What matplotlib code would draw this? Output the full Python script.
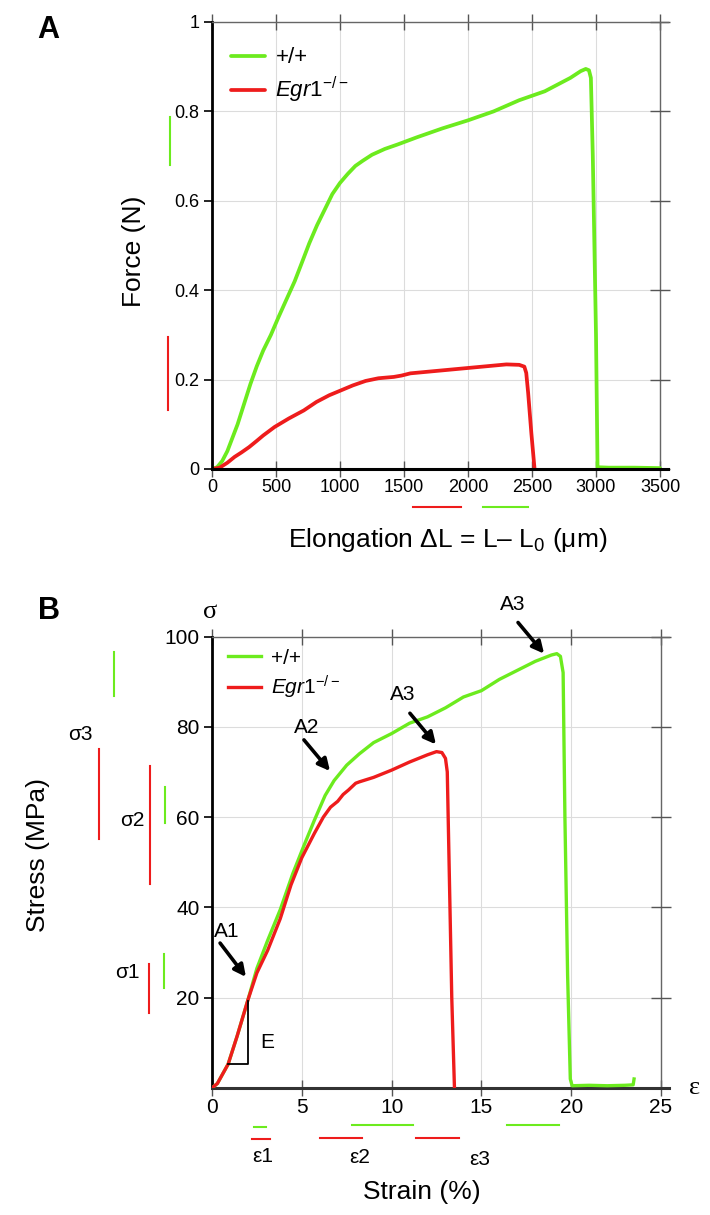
import numpy as np
import matplotlib
matplotlib.use("Agg")
import matplotlib.pyplot as plt

plt.rcParams['font.family'] = ['Liberation Sans', 'DejaVu Sans']
plt.rcParams['mathtext.fontset'] = 'custom'
plt.rcParams['mathtext.rm'] = 'Liberation Sans'
plt.rcParams['mathtext.it'] = 'Liberation Sans:italic'
plt.rcParams['mathtext.bf'] = 'Liberation Sans:bold'

GREEN = '#6CEB1E'
RED = '#EE1C1C'

# ---------------- Panel A data: force vs elongation ----------------
wt_elong = [0, 40, 80, 120, 160, 200, 250, 300, 350, 400, 460, 520, 575, 646,
            700, 760, 820, 880, 940, 1000, 1060, 1120, 1180, 1250, 1350, 1450,
            1600, 1800, 2000, 2200, 2400, 2600, 2800, 2880, 2920, 2945, 2960,
            2975, 3000, 3012, 3100, 3300, 3500]
wt_force = [0, 0.004, 0.018, 0.04, 0.07, 0.10, 0.145, 0.19, 0.23, 0.265, 0.30,
            0.34, 0.375, 0.42, 0.46, 0.505, 0.545, 0.58, 0.615, 0.64, 0.66,
            0.678, 0.69, 0.703, 0.716, 0.726, 0.742, 0.762, 0.78, 0.80, 0.825,
            0.845, 0.875, 0.89, 0.895, 0.892, 0.875, 0.70, 0.30, 0.004, 0.003,
            0.003, 0.002]
ko_elong = [0, 60, 120, 176, 230, 290, 350, 400, 489, 600, 717, 816, 916, 1000,
            1100, 1200, 1300, 1420, 1480, 1550, 1700, 1850, 2000, 2150, 2300,
            2400, 2440, 2455, 2470, 2495, 2520]
ko_force = [0, 0.003, 0.014, 0.027, 0.037, 0.049, 0.063, 0.075, 0.094, 0.113,
            0.131, 0.15, 0.165, 0.175, 0.187, 0.197, 0.203, 0.206, 0.209,
            0.214, 0.218, 0.222, 0.226, 0.23, 0.234, 0.233, 0.229, 0.215,
            0.17, 0.08, 0.0]

# ---------------- Panel B data: stress vs strain ----------------
wt_strain = [0, 0.3, 0.9, 1.4, 2.0, 2.5, 3.1, 3.8, 4.5, 5.1, 5.7, 6.3, 6.8, 7.5,
             8.2, 9, 10, 11, 12, 13, 14, 15, 16, 17, 18, 18.9, 19.2, 19.4,
             19.55, 19.65, 19.8, 19.95, 20.05, 21, 22, 23, 23.45, 23.5]
wt_stress = [0, 1, 5.3, 11.5, 19.5, 26.5, 32.7, 39.5, 47.5, 53.5, 59.3, 64.8,
             68.1, 71.5, 74, 76.5, 78.5, 80.8, 82.2, 84.2, 86.6, 88, 90.5, 92.5,
             94.5, 95.9, 96.2, 95.6, 92, 60, 25, 2, 0.5, 0.6, 0.5, 0.6, 0.7, 2]
ko_strain = [0, 0.3, 0.9, 1.4, 2.0, 2.5, 3.1, 3.8, 4.4, 5.0, 5.7, 6.2, 6.6, 7.0,
             7.3, 7.6, 8.0, 8.2, 9, 10, 11, 12, 12.5, 12.8, 13.0, 13.1, 13.2,
             13.35, 13.5]
ko_stress = [0, 1, 5.3, 11.5, 19.5, 25.5, 30.5, 37.5, 45, 51, 56.4, 60, 62.2,
             63.5, 65.0, 66.0, 67.5, 67.8, 68.8, 70.4, 72.2, 73.8, 74.5, 74.3,
             73.0, 70, 50, 20, 0]

xticksA = [0, 500, 1000, 1500, 2000, 2500, 3000, 3500]
yticksA = [0, 0.2, 0.4, 0.6, 0.8, 1.0]
ytlabA = ['0', '0.2', '0.4', '0.6', '0.8', '1']
xticksB = [0, 5, 10, 15, 20, 25]
yticksB = [20, 40, 60, 80, 100]

legend_labels = ['+/+', r'$\mathit{Egr1}^{-/-}$']

# annotation bars (ranges) : (position, low, high)
barsA_vert = [(-0.093, 0.679, 0.787, GREEN), (-0.0965, 0.132, 0.296, RED)]
barsA_horiz = [(-0.085, 1570, 1945, RED), (-0.085, 2120, 2469, GREEN)]
barsB_vert = [(-0.2144, 86.9, 96.6, GREEN), (-0.2473, 55.1, 75.1, RED),
              (-0.1357, 45.2, 71.3, RED), (-0.1035, 58.6, 66.7, GREEN),
              (-0.1385, 16.7, 27.5, RED), (-0.1057, 22.2, 29.7, GREEN)]
barsB_horiz = [(-0.0857, 2.34, 3.01, GREEN), (-0.1136, 2.24, 3.23, RED),
               (-0.082, 7.81, 11.17, GREEN), (-0.111, 6.01, 8.37, RED),
               (-0.111, 11.36, 13.77, RED), (-0.082, 16.41, 19.34, GREEN)]

W, H = 710, 1215
fig = plt.figure(figsize=(W / 100, H / 100), dpi=100)


def fx(px):
    return px / W


def fy(py):
    return 1 - py / H


def style_axes(ax, xticks, yticks, ytl, xmax_tick, fs, botcolor):
    ax.set_xticks(xticks)
    ax.set_yticks(yticks)
    if ytl is not None:
        ax.set_yticklabels(ytl)
    ax.grid(True, color='#dcdcdc', lw=0.8)
    ax.set_axisbelow(True)
    ax.spines['left'].set_linewidth(2.0)
    ax.spines['left'].set_color('k')
    ax.spines['bottom'].set_linewidth(2.2)
    ax.spines['bottom'].set_color(botcolor)
    ax.spines['top'].set_linewidth(1.0)
    ax.spines['top'].set_color('#666666')
    ax.spines['right'].set_visible(False)
    ax.tick_params(axis='y', direction='out', length=6, width=1.2, color='k',
                   labelsize=fs, pad=3)
    ax.tick_params(axis='x', direction='inout', length=11, width=1.0,
                   color='#555555', labelsize=fs, pad=2, top=True)
    ax.axvline(xmax_tick, color='#666666', lw=1.0, zorder=1)
    ax.plot(np.full(len(yticks), xmax_tick), yticks, ls='none', marker='_',
            ms=15, mew=1.0, color='#555555', zorder=1, clip_on=False)


# ---------------- Panel A ----------------
axA = fig.add_axes([fx(212), fy(469), 456 / W, 447 / H])
axA.plot(wt_elong, wt_force, color=GREEN, lw=2.7, solid_joinstyle='round',
         solid_capstyle='round', label=legend_labels[0])
axA.plot(ko_elong, ko_force, color=RED, lw=2.7, solid_joinstyle='round',
         solid_capstyle='round', label=legend_labels[1])
axA.set_xlim(0, 3500 * 456 / 448)
axA.set_ylim(0, 1)
style_axes(axA, xticksA, yticksA, ytlabA, 3500, 13, 'k')
axA.legend(loc='upper left', bbox_to_anchor=(0.0417, 0.943), frameon=False,
           fontsize=16, handlelength=1.55, handletextpad=0.45,
           borderaxespad=0, borderpad=0, labelspacing=0.3)
for xpos, lo, hi, c in barsA_vert:
    axA.plot([xpos, xpos], [lo, hi], color=c, lw=1.5,
             transform=axA.get_yaxis_transform(), clip_on=False)
for ypos, lo, hi, c in barsA_horiz:
    axA.plot([lo, hi], [ypos, ypos], color=c, lw=1.5,
             transform=axA.get_xaxis_transform(), clip_on=False)

fig.text(fx(134), fy(251), 'Force (N)', rotation=90, fontsize=19,
         ha='center', va='center')
fig.text(fx(448), fy(540), r'Elongation ΔL = L– L$_0$ (μm)', fontsize=19,
         ha='center', va='center')
fig.text(fx(48.5), fy(30), 'A', fontsize=22, fontweight='bold',
         ha='center', va='center')

# ---------------- Panel B ----------------
axB = fig.add_axes([fx(212), fy(1088), 457 / W, 451.5 / H])
axB.plot(wt_strain, wt_stress, color=GREEN, lw=2.4, solid_joinstyle='round',
         label=legend_labels[0], zorder=3)
axB.plot(ko_strain, ko_stress, color=RED, lw=2.4, solid_joinstyle='round',
         label=legend_labels[1], zorder=4)
axB.set_xlim(0, 25 * 457 / 449)
axB.set_ylim(0, 100)
style_axes(axB, xticksB, yticksB, None, 25, 15, '#333333')
axB.legend(loc='upper left', bbox_to_anchor=(0.035, 0.973), frameon=False,
           fontsize=15, handlelength=1.6, handletextpad=0.45,
           borderaxespad=0, borderpad=0, labelspacing=0.3)
for xpos, lo, hi, c in barsB_vert:
    axB.plot([xpos, xpos], [lo, hi], color=c, lw=1.5,
             transform=axB.get_yaxis_transform(), clip_on=False)
for ypos, lo, hi, c in barsB_horiz:
    axB.plot([lo, hi], [ypos, ypos], color=c, lw=1.5,
             transform=axB.get_xaxis_transform(), clip_on=False)

# elastic modulus triangle
axB.plot([0.9, 2.0, 2.0], [5.3, 5.3, 19.3], color='k', lw=1.3, zorder=5)
axB.text(3.05, 10.0, 'E', fontsize=15, ha='center', va='center')

# arrows + labels
arrow_kw = dict(arrowstyle='-|>,head_length=0.7,head_width=0.35', lw=2.6,
                color='k', shrinkA=0, shrinkB=0)
annots = [('A1', (0.82, 34.6), (0.45, 32.1), (1.89, 24.6)),
          ('A2', (5.27, 79.9), (5.12, 77.1), (6.57, 70.2)),
          ('A3', (10.6, 87.2), (11.02, 83.0), (12.47, 76.1)),
          ('A3', (16.75, 107.1), (17.04, 103.1), (18.49, 96.2))]
for lab, tpos, start, tip in annots:
    axB.text(tpos[0], tpos[1], lab, fontsize=15, ha='center', va='center',
             clip_on=False)
    axB.annotate('', xy=tip, xytext=start, arrowprops=arrow_kw,
                 annotation_clip=False)

# sigma / epsilon labels
axB.text(-0.2888, 78.2, 'σ3', fontsize=15, ha='center', va='center',
         transform=axB.get_yaxis_transform())
axB.text(-0.175, 59.2, 'σ2', fontsize=15, ha='center', va='center',
         transform=axB.get_yaxis_transform())
axB.text(-0.1845, 25.5, 'σ1', fontsize=15, ha='center', va='center',
         transform=axB.get_yaxis_transform())
axB.text(2.8, -0.152, 'ε1', fontsize=15, ha='center', va='center',
         transform=axB.get_xaxis_transform())
axB.text(8.24, -0.153, 'ε2', fontsize=15, ha='center', va='center',
         transform=axB.get_xaxis_transform())
axB.text(14.92, -0.159, 'ε3', fontsize=15, ha='center', va='center',
         transform=axB.get_xaxis_transform())
fig.text(fx(695), fy(1088), 'ε', fontsize=19, family='Liberation Serif',
         ha='center', va='center')
fig.text(fx(210), fy(612), 'σ', fontsize=19, family='Liberation Serif',
         ha='center', va='center')

fig.text(fx(38), fy(855), 'Stress (MPa)', rotation=90, fontsize=19,
         ha='center', va='center')
fig.text(fx(422), fy(1192), 'Strain (%)', fontsize=19, ha='center',
         va='center')
fig.text(fx(49), fy(611), 'B', fontsize=22, fontweight='bold',
         ha='center', va='center')

fig.savefig('out.png', dpi=100)
